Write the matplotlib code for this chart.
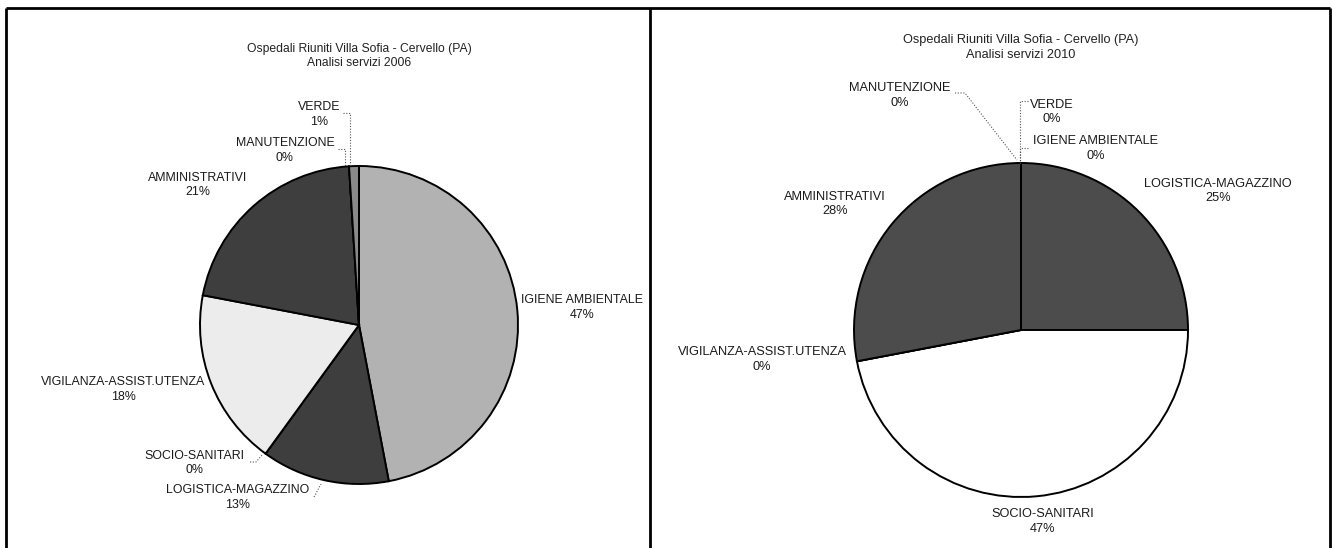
import matplotlib
matplotlib.use("Agg")
import matplotlib.pyplot as plt

# ---------------- data ----------------
categories = ["IGIENE AMBIENTALE", "LOGISTICA-MAGAZZINO", "SOCIO-SANITARI",
              "VIGILANZA-ASSIST.UTENZA", "AMMINISTRATIVI", "MANUTENZIONE", "VERDE"]
values_2006 = [47, 13, 0, 18, 21, 0, 1]
values_2010 = [0, 25, 47, 0, 28, 0, 0]
title_line1 = "Ospedali Riuniti Villa Sofia - Cervello (PA)"
title_2006 = "Analisi servizi 2006"
title_2010 = "Analisi servizi 2010"

# ---------------- style / layout ----------------
W, H = 1332, 548
colors_2006 = ["#b2b2b2", "#3e3e3e", "#ffffff", "#ececec", "#3e3e3e", "#8a8a8a", "#8a8a8a"]
colors_2010 = ["#b2b2b2", "#4c4c4c", "#ffffff", "#ececec", "#4c4c4c", "#8a8a8a", "#8a8a8a"]
FONT = "Liberation Sans"

plt.rcParams["font.family"] = [FONT, "DejaVu Sans"]
fig = plt.figure(figsize=(W / 100, H / 100), dpi=100)
ax = fig.add_axes([0, 0, 1, 1])


def Y(y):
    return H - y


def draw_pie(values, colors, center, radius):
    ax.pie(values, colors=colors, startangle=90, counterclock=False,
           center=(center[0], Y(center[1])), radius=radius,
           wedgeprops=dict(edgecolor="black", linewidth=1.4))


draw_pie(values_2006, colors_2006, (359, 325), 159)
draw_pie(values_2010, colors_2010, (1021, 330), 167)

ax.set_xlim(0, W)
ax.set_ylim(0, H)
ax.set_aspect("equal")
ax.axis("off")

# titles
ax.text(359, Y(56), title_line1 + "\n" + title_2006, ha="center", va="center",
        fontsize=8.7, linespacing=1.3, color="#222222")
ax.text(1021, Y(47.5), title_line1 + "\n" + title_2010, ha="center", va="center",
        fontsize=9.2, linespacing=1.3, color="#222222")

# label positions (layout only)
pos_2006 = {
    "IGIENE AMBIENTALE": (582, 307.5),
    "LOGISTICA-MAGAZZINO": (238, 497.5),
    "SOCIO-SANITARI": (194, 463),
    "VIGILANZA-ASSIST.UTENZA": (123, 389.5),
    "AMMINISTRATIVI": (198, 185),
    "MANUTENZIONE": (285, 150.5),
    "VERDE": (319, 114.5),
}
pos_2010 = {
    "IGIENE AMBIENTALE": (1096, 148.5),
    "LOGISTICA-MAGAZZINO": (1218, 191),
    "SOCIO-SANITARI": (1043, 521.5),
    "VIGILANZA-ASSIST.UTENZA": (762, 359.5),
    "AMMINISTRATIVI": (835, 204),
    "MANUTENZIONE": (900, 95.5),
    "VERDE": (1052, 112),
}

for vals, pos, fs in ((values_2006, pos_2006, 8.9), (values_2010, pos_2010, 9.2)):
    for cat, v in zip(categories, vals):
        x, y = pos[cat]
        ax.text(x, Y(y), f"{cat}\n{v}%", ha="center", va="center",
                fontsize=fs, linespacing=1.25, color="#1a1a1a")

# leader lines (dotted)
leaders = [
    [(343, 113), (350, 113), (350, 167)],
    [(338, 149), (345, 149), (345, 167)],
    [(250, 462), (256, 462), (263, 454)],
    [(314, 497), (321, 484)],
    [(955, 93), (965, 93), (1017, 160)],
    [(1028, 101), (1020, 101), (1020, 163)],
    [(1028, 148), (1020, 148), (1020, 163)],
]
for pts in leaders:
    xs = [p[0] for p in pts]
    ys = [Y(p[1]) for p in pts]
    ax.plot(xs, ys, linestyle=(0, (1, 1.5)), color="#555555", linewidth=0.8)

# panel frames
frame_kw = dict(color="black", linewidth=2.0, solid_capstyle="butt")
ax.plot([6, 1330], [Y(8), Y(8)], **frame_kw)
ax.plot([6, 6], [Y(8), 0], **frame_kw)
ax.plot([650, 650], [Y(8), 0], **frame_kw)
ax.plot([1330, 1330], [Y(8), 0], **frame_kw)

fig.savefig("out.png", dpi=100, facecolor="white")
